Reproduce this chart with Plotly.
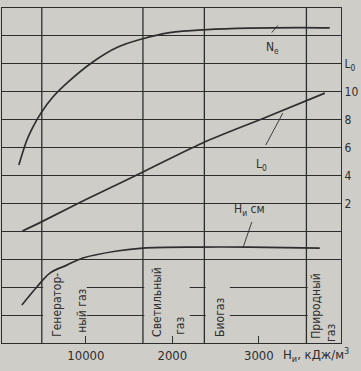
import plotly.graph_objects as go

# --- data ---
# x: heating value H_u, kJ/m3 ; y: chart grid units (L0 scale)
ne_x = [2250, 3180, 3870, 4800, 6180, 7800, 10800, 13700, 16600, 19700, 24000, 28950, 34700, 38200]
ne_y = [4.75, 6.54, 7.47, 8.47, 9.62, 10.62, 12.13, 13.2, 13.8, 14.23, 14.45, 14.56, 14.6, 14.58]

l0_x = [2660, 4800, 9880, 16600, 23500, 30900, 37630]
l0_y = [0.02, 0.66, 2.24, 4.25, 6.33, 8.19, 9.90]

hsm_x = [2600, 4330, 5840, 7800, 9650, 13580, 16590, 23180, 28960, 37050]
hsm_y = [-5.28, -3.99, -2.99, -2.42, -1.91, -1.41, -1.20, -1.13, -1.13, -1.20]

gas_boundaries = [4900, 16600, 23700, 35500]

x_tickvals = [10000, 20000, 30000]
x_ticktext = ["10000", "2000", "3000"]
y_tickvals = [2, 4, 6, 8, 10, 12]
y_ticktext = ["2", "4", "6", "8", "10", "L<sub>0</sub>"]

BG = "#cecdc8"
INK = "#2e2e2e"
FONT = "Liberation Sans Narrow, Arial Narrow, DejaVu Sans Condensed, sans-serif"

fig = go.Figure()
for xs, ys in [(ne_x, ne_y), (l0_x, l0_y), (hsm_x, hsm_y)]:
    fig.add_trace(go.Scatter(x=xs, y=ys, mode="lines", line=dict(color=INK, width=1.7, shape="spline"),
                             showlegend=False, hoverinfo="skip"))

shapes = []
# masks: gaps in the -4 and -6 grid lines where the gas labels sit
gaps = [(5050, 10100), (16750, 22000), (23850, 26650), (35650, 39500)]
for g0, g1 in gaps:
    for yy in (-4, -6):
        shapes.append(dict(type="rect", xref="x", yref="y", x0=g0, x1=g1, y0=yy - 0.25, y1=yy + 0.25,
                           fillcolor=BG, line=dict(width=0), layer="above"))
for gb in gas_boundaries:
    shapes.append(dict(type="line", xref="x", yref="paper", x0=gb, x1=gb, y0=0, y1=1,
                       line=dict(color=INK, width=1.3), layer="above"))
# leader lines
for (a, b, c, d) in [(32200, 14.75, 31500, 14.25), (32770, 8.47, 30800, 6.18), (29190, 0.67, 28150, -1.2)]:
    shapes.append(dict(type="line", xref="x", yref="y", x0=a, y0=b, x1=c, y1=d,
                       line=dict(color=INK, width=0.9), layer="above"))

ann = []
def txt(x, y, t, size=11, angle=0, **kw):
    ann.append(dict(x=x, y=y, xref="x", yref="y", text=t, showarrow=False, textangle=angle,
                    font=dict(family=FONT, size=size, color=INK), xanchor="center", yanchor="middle", **kw))

txt(31600, 13.1, "N<sub>e</sub>", 12)
txt(30350, 4.76, "L<sub>0</sub>", 12)
txt(28950, 1.53, "H<sub>и</sub> см", 12)

txt(6640, -5.28, "Генератор-", 12, -90)
txt(9540, -5.7, "ный газ", 12, -90)
txt(18200, -5.07, "Светильный", 12, -90)
txt(20870, -6.78, "газ", 12, -90)
txt(25490, -6.14, "Биогаз", 12, -90)
txt(36590, -5.35, "Природный", 12, -90)
txt(38320, -7.29, "газ", 12, -90)

ann.append(dict(x=36600, y=-0.035, xref="x", yref="paper", text="H<sub>и</sub>, кДж/м<sup>3</sup>",
                showarrow=False, font=dict(family=FONT, size=13, color=INK), xanchor="center", yanchor="middle"))

fig.update_layout(
    width=361, height=371,
    margin=dict(l=2, r=20, t=8, b=28),
    paper_bgcolor=BG, plot_bgcolor=BG,
    shapes=shapes, annotations=ann,
    xaxis=dict(range=[300, 39500], tickvals=x_tickvals, ticktext=x_ticktext, showgrid=False,
               zeroline=False, showline=True, mirror=True, linecolor=INK, linewidth=1.3,
               ticks="inside", ticklen=7, tickcolor=INK, tickwidth=1,
               tickfont=dict(family=FONT, size=13, color=INK)),
    yaxis=dict(range=[-8, 16], side="right",
               showgrid=True, gridcolor=INK, gridwidth=1.2, zeroline=False,
               showline=True, mirror=True, linecolor=INK, linewidth=1.3, ticks="",
               tickfont=dict(family=FONT, size=12, color=INK)),
)
grid_vals = list(range(-8, 17, 2))
fig.update_yaxes(tickmode="array", tickvals=grid_vals,
                 ticktext=[y_ticktext[y_tickvals.index(v)] if v in y_tickvals else "" for v in grid_vals])

fig.write_html("out.html", config={"displayModeBar": False},
               post_script="document.body.style.margin='0';document.body.style.overflow='hidden';")
